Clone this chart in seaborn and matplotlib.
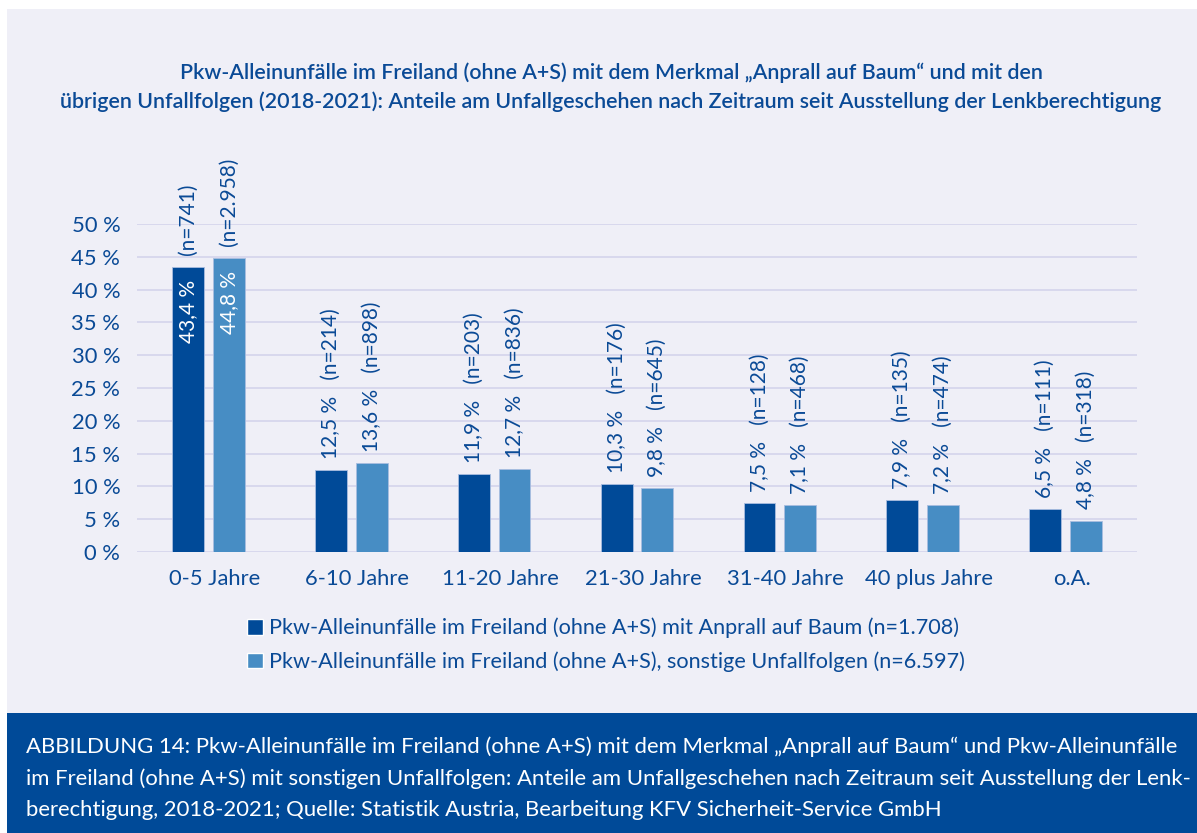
import pandas as pd
import matplotlib.pyplot as plt
import seaborn as sns
from matplotlib.patches import Rectangle, Patch
from matplotlib.transforms import ScaledTranslation

# data
categories = ['0-5 Jahre', '6-10 Jahre', '11-20 Jahre', '21-30 Jahre', '31-40 Jahre', '40 plus Jahre', 'o.A.']
baum = [43.4, 12.5, 11.9, 10.3, 7.5, 7.9, 6.5]
sonstige = [44.8, 13.6, 12.7, 9.8, 7.1, 7.2, 4.8]
n_baum = ['741', '214', '203', '176', '128', '135', '111']
n_sonstige = ['2.958', '898', '836', '645', '468', '474', '318']
series = ['Pkw-Alleinunfälle im Freiland (ohne A+S) mit Anprall auf Baum (n=1.708)',
          'Pkw-Alleinunfälle im Freiland (ohne A+S), sonstige Unfallfolgen (n=6.597)']
yticks = [0, 5, 10, 15, 20, 25, 30, 35, 40, 45, 50]

title = ('Pkw-Alleinunfälle im Freiland (ohne A+S) mit dem Merkmal „Anprall auf Baum“ und mit den\n'
         'übrigen Unfallfolgen (2018-2021): Anteile am Unfallgeschehen nach Zeitraum seit Ausstellung der Lenkberechtigung')
footer = ('ABBILDUNG 14: Pkw-Alleinunfälle im Freiland (ohne A+S) mit dem Merkmal „Anprall auf Baum“ und Pkw-Alleinunfälle\n'
          'im Freiland (ohne A+S) mit sonstigen Unfallfolgen: Anteile am Unfallgeschehen nach Zeitraum seit Ausstellung der Lenk-\n'
          'berechtigung, 2018-2021; Quelle: Statistik Austria, Bearbeitung KFV Sicherheit-Service GmbH')

df = pd.DataFrame({
    'Zeitraum': categories * 2,
    'Serie': [series[0]] * len(categories) + [series[1]] * len(categories),
    'Anteil': baum + sonstige,
})

dark = '#004A98'
light = '#478DC4'
bg = '#EFEFF7'
txt = '#0A4A96'

sns.set_style('white')
plt.rcParams['font.family'] = ['Lato', 'DejaVu Sans']

W, H = 1197, 833
fig = plt.figure(figsize=(W / 100, H / 100), dpi=100)
fig.patch.set_facecolor('white')
fig.patches.append(Rectangle((7 / W, 1 - 713 / H), 1, 704 / H, transform=fig.transFigure,
                             facecolor=bg, edgecolor='none', zorder=-2))
fig.patches.append(Rectangle((7 / W, 0), 1, 120 / H, transform=fig.transFigure,
                             facecolor=dark, edgecolor='none', zorder=-2))

ax = fig.add_axes([137 / W, 1 - 552 / H, 1000 / W, 328 / H])
ax.set_facecolor(bg)
sns.barplot(data=df, x='Zeitraum', y='Anteil', hue='Serie', palette=[dark, light], saturation=1,
            width=0.57, gap=0.22, ax=ax, legend=False, edgecolor='#A9BDE0', linewidth=0.6)
ax.set_xlim(-0.5, 6.5)
ax.set_ylim(0, 50)
ax.set_yticks(yticks)
ax.set_yticklabels([f'{v} %' for v in yticks])
ax.yaxis.grid(True, color='#D6D6EC', linewidth=1.3)
ax.set_axisbelow(True)
ax.tick_params(axis='y', length=0, pad=12, labelsize=15.8, labelcolor=txt)
ax.tick_params(axis='x', length=0, pad=12, labelsize=15.8, labelcolor=txt)
# x labels sit a little right of the bar pairs in the original
for lab in ax.get_xticklabels():
    lab.set_transform(lab.get_transform() + ScaledTranslation(0.06, 0, fig.dpi_scale_trans))
ax.set_xlabel('')
ax.set_ylabel('')
sns.despine(ax=ax, left=True, bottom=True)

# bar labels
ns = [n_baum, n_sonstige]
fs = 15
for ci, cont in enumerate(ax.containers):
    for i, bar in enumerate(cont):
        x = bar.get_x() + bar.get_width() / 2
        h = bar.get_height()
        pct = f'{h:.1f} %'.replace('.', ',')
        if i == 0:
            ax.annotate(pct, (x, h), xytext=(0, -9), textcoords='offset points', rotation=90,
                        ha='center', va='top', color='white', fontsize=fs)
            ax.annotate(f'(n={ns[ci][i]})', (x, h), xytext=(0, 9), textcoords='offset points',
                        rotation=90, ha='center', va='bottom', color=txt, fontsize=fs,
                        annotation_clip=False)
        else:
            ax.annotate(f'{pct}   (n={ns[ci][i]})', (x, h), xytext=(0, 8), textcoords='offset points',
                        rotation=90, ha='center', va='bottom', color=txt, fontsize=fs,
                        annotation_clip=False)

fig.text(611 / W, 1 - 87 / H, title, ha='center', va='center', color=txt, fontsize=15.4,
         fontweight='semibold', linespacing=1.5)

handles = [Patch(facecolor=dark), Patch(facecolor=light)]
fig.legend(handles, series, loc='center left', bbox_to_anchor=(247 / W, 1 - 645 / H), frameon=False,
           borderpad=0, borderaxespad=0, handlelength=0.75, handleheight=0.75, handletextpad=0.25,
           labelspacing=0.6, fontsize=15.6, labelcolor=txt)

fig.text(26 / W, 1 - 778 / H, footer, ha='left', va='center', color='white', fontsize=15.9,
         linespacing=1.7)

fig.savefig('out.png', dpi=100)
